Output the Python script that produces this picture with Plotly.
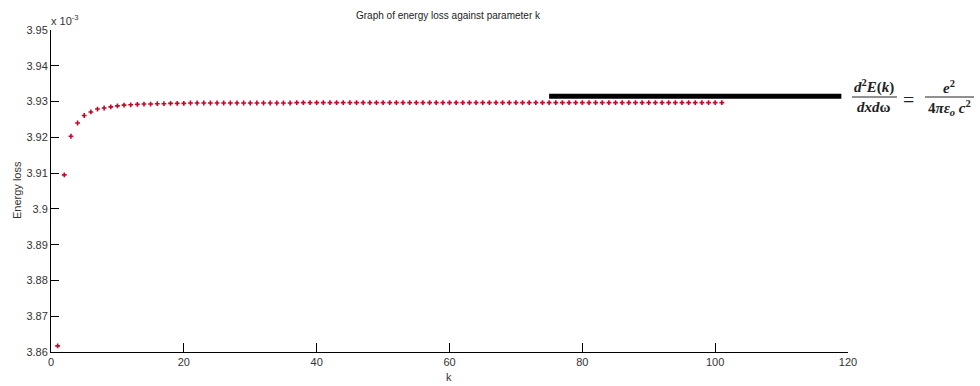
import plotly.graph_objects as go

# ---- data (energy loss in units of 1e-3) ----
k_values = list(range(1, 102))
energy_loss = [
    3.8617, 3.9095, 3.9203, 3.9240, 3.9261, 3.9271, 3.9279, 3.9282, 3.9285, 3.9288,
    3.9290, 3.9291, 3.9292, 3.9293, 3.9293, 3.9294, 3.9294, 3.9295, 3.9295, 3.9295,
    3.9296, 3.9296, 3.9296, 3.9296, 3.9296, 3.9296, 3.9296, 3.9296, 3.9296, 3.9296,
    3.9296, 3.9296, 3.9296, 3.9296, 3.9296, 3.9296, 3.9297, 3.9297, 3.9297, 3.9297,
    3.9297, 3.9297, 3.9297, 3.9297, 3.9297, 3.9297, 3.9297, 3.9297, 3.9297, 3.9297,
    3.9297, 3.9297, 3.9297, 3.9297, 3.9297, 3.9297, 3.9297, 3.9297, 3.9297, 3.9297,
    3.9297, 3.9297, 3.9297, 3.9297, 3.9297, 3.9297, 3.9297, 3.9297, 3.9297, 3.9297,
    3.9297, 3.9297, 3.9297, 3.9297, 3.9297, 3.9297, 3.9297, 3.9297, 3.9297, 3.9297,
    3.9297, 3.9297, 3.9297, 3.9297, 3.9297, 3.9297, 3.9297, 3.9297, 3.9297, 3.9297,
    3.9297, 3.9297, 3.9297, 3.9297, 3.9297, 3.9297, 3.9297, 3.9297, 3.9297, 3.9297,
    3.9297,
]
limit_x = [75, 119]
limit_y = [3.9315, 3.9315]

x_ticks = [0, 20, 40, 60, 80, 100, 120]
y_ticks = [3.86, 3.87, 3.88, 3.89, 3.90, 3.91, 3.92, 3.93, 3.94, 3.95]
y_tick_text = ["3.86", "3.87", "3.88", "3.89", "3.9", "3.91", "3.92", "3.93", "3.94", "3.95"]

# ---- layout geometry (pixels) ----
W, H = 980, 386
L, R, T, B = 51, 848, 30, 352


def px(xp):
    return (xp - L) / (R - L)


def py(yp):
    return (B - yp) / (B - T)


fig = go.Figure()
fig.add_trace(go.Scatter(
    x=k_values, y=energy_loss, mode="markers",
    marker=dict(symbol="cross", size=4, color="#c00a28", line=dict(width=0)),
    showlegend=False, cliponaxis=False, hoverinfo="skip",
))
fig.add_trace(go.Scatter(
    x=limit_x, y=limit_y, mode="lines",
    line=dict(color="black", width=5),
    showlegend=False, cliponaxis=False, hoverinfo="skip",
))

font_axis = dict(family="Liberation Sans, Arial, sans-serif", size=11, color="#333333")

fig.update_layout(
    width=W, height=H,
    margin=dict(l=L, r=W - R, t=T, b=H - B, pad=0, autoexpand=False),
    paper_bgcolor="white", plot_bgcolor="white",
    xaxis=dict(
        range=[0, 120], tickvals=x_ticks, ticks="inside", ticklen=9, tickwidth=1,
        tickcolor="black", showline=True, linecolor="black", linewidth=1,
        showgrid=False, zeroline=False, tickfont=font_axis, mirror=False, automargin=False,
    ),
    yaxis=dict(
        range=[3.86, 3.95], tickvals=y_ticks, ticktext=y_tick_text, ticks="inside",
        ticklen=8, tickwidth=1, tickcolor="black", showline=True, linecolor="black",
        linewidth=1, showgrid=False, zeroline=False, tickfont=font_axis, automargin=False,
    ),
)

ann = []
ann.append(dict(text="Graph of energy loss against parameter k", xref="paper", yref="paper",
                x=px(448), y=py(15), xanchor="center", yanchor="middle", showarrow=False,
                font=dict(family="Liberation Sans, Arial, sans-serif", size=10, color="#222222")))
ann.append(dict(text="x 10<sup>-3</sup>", xref="paper", yref="paper", x=px(49), y=py(20),
                xanchor="left", yanchor="middle", showarrow=False,
                font=dict(family="Liberation Sans, Arial, sans-serif", size=11, color="#333333")))
ann.append(dict(text="k", xref="paper", yref="paper", x=px(449), y=py(377),
                xanchor="center", yanchor="middle", showarrow=False, font=font_axis))
ann.append(dict(text="Energy loss", xref="paper", yref="paper", x=px(17), y=py(190),
                xanchor="center", yanchor="middle", showarrow=False, textangle=-90, font=font_axis))

eq_font = dict(family="Liberation Serif, DejaVu Serif, serif", size=15, color="#222222")
ann.append(dict(text="<b><i>d</i><sup>2</sup><i>E</i>(<i>k</i>)</b>", xref="paper", yref="paper",
                x=px(874), y=py(87), xanchor="center", yanchor="middle", showarrow=False, font=eq_font))
ann.append(dict(text="<b><i>dxd</i>ω</b>", xref="paper", yref="paper",
                x=px(874), y=py(107), xanchor="center", yanchor="middle", showarrow=False, font=eq_font))
ann.append(dict(text="=", xref="paper", yref="paper",
                x=px(908), y=py(100), xanchor="center", yanchor="middle", showarrow=False,
                font=dict(family="Liberation Serif, serif", size=20, color="#222222")))
ann.append(dict(text="<b><i>e</i><sup>2</sup></b>", xref="paper", yref="paper",
                x=px(949), y=py(87), xanchor="center", yanchor="middle", showarrow=False, font=eq_font))
ann.append(dict(text="<b>4<i>π</i><i>ε</i><sub><i>o</i></sub> <i>c</i><sup>2</sup></b>", xref="paper", yref="paper",
                x=px(949), y=py(108), xanchor="center", yanchor="middle", showarrow=False, font=eq_font))
fig.update_layout(annotations=ann)

fig.add_shape(type="line", xref="paper", yref="paper", x0=px(852), x1=px(897), y0=py(97), y1=py(97),
              line=dict(color="#222222", width=1))
fig.add_shape(type="line", xref="paper", yref="paper", x0=px(925), x1=px(974), y0=py(97), y1=py(97),
              line=dict(color="#222222", width=1))

fig.write_html("out.html", config={"displayModeBar": False},
               post_script="document.body.style.margin='0';document.body.style.overflow='hidden';")
